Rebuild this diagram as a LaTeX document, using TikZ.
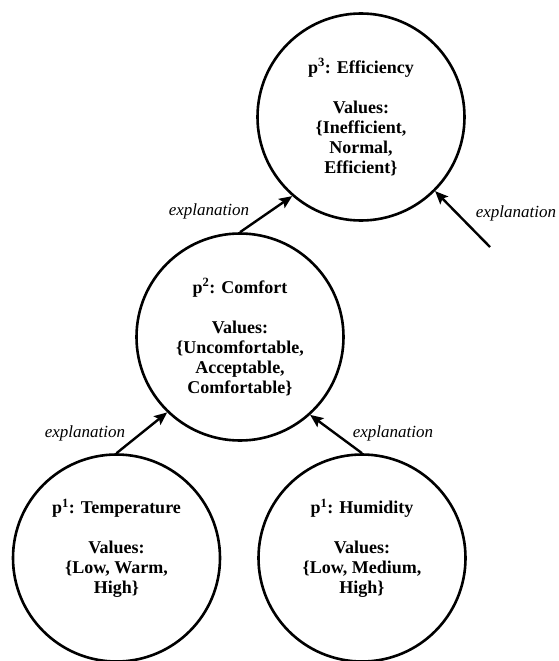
\documentclass[tikz,border=0pt]{standalone}
\usepackage{fontspec}
\setmainfont{Liberation Serif}
\usetikzlibrary{arrows.meta,calc}

\tikzset{
  prop/.style={circle, draw, line width=2.6pt, minimum size=207pt, inner sep=0pt},
  proptext/.style={align=center, font=\fontsize{18}{20}\selectfont\bfseries, inner sep=0pt},
  expl/.style={font=\fontsize{17}{20}\selectfont\itshape, inner sep=0pt},
  link/.style={line width=2.4pt, -{Stealth[length=13pt,width=11pt,inset=2.5pt]}}
}

\begin{document}
\begin{tikzpicture}[x=1pt,y=-1pt]
  \useasboundingbox (0,0) rectangle (558,661);

  % proposition circles
  \node[prop] (eff) at (361,117) {};
  \node[prop] (com) at (240,337) {};
  \node[prop] (tem) at (116.5,558) {};
  \node[prop] (hum) at (362,558) {};

  % contents of each circle
  \node[proptext] (efftxt) at (eff.center) {p\textsuperscript{3}: Efficiency\\[20pt]Values:\\\{Inefficient,\\Normal,\\Efficient\}};
  \node[proptext] (comtxt) at (com.center) {p\textsuperscript{2}: Comfort\\[20pt]Values:\\\{Uncomfortable,\\Acceptable,\\Comfortable\}};
  \node[proptext] (temtxt) at ($(tem.center)+(0,-10)$) {p\textsuperscript{1}: Temperature\\[20pt]Values:\\\{Low, Warm,\\High\}};
  \node[proptext] (humtxt) at ($(hum.center)+(0,-10)$) {p\textsuperscript{1}: Humidity\\[20pt]Values:\\\{Low, Medium,\\High\}};

  % explanation links
  \coordinate (ext) at (490,247);
  \draw[link] (tem.north) -- (com.226);
  \draw[link] (hum.north) -- (com.312);
  \draw[link] (com.north) -- (eff.229);
  \draw[link] (ext) -- (eff.315);

  \node[expl] (e1) at (209,211) {explanation};
  \node[expl] (e2) at (516,213) {explanation};
  \node[expl] (e3) at (85,433) {explanation};
  \node[expl] (e4) at (393,433) {explanation};
\end{tikzpicture}
\end{document}
